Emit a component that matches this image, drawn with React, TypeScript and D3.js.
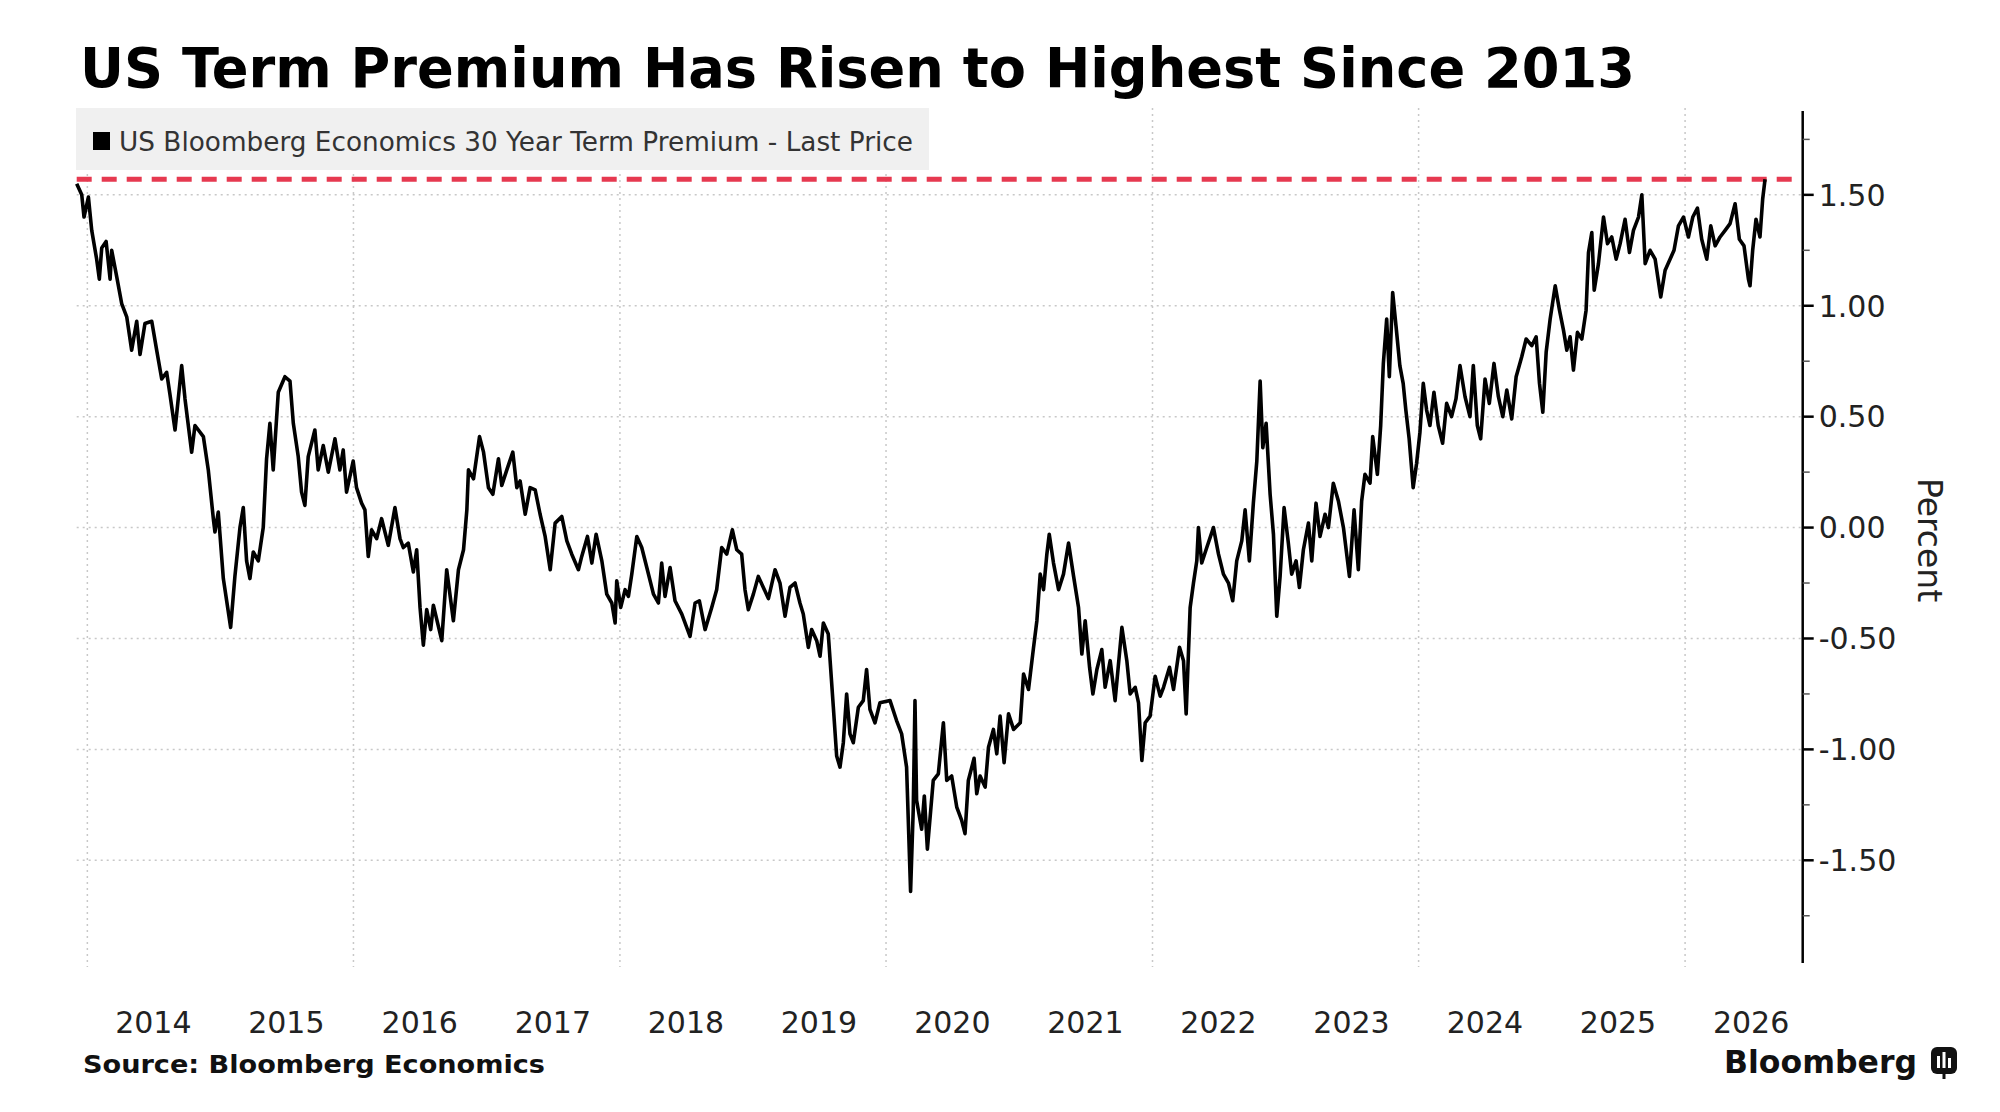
import { useMemo } from 'react';
import * as d3 from 'd3';

// US term premium (decimal year, percent)
const dates = [
    2013.92, 2013.958, 2013.975, 2014.008, 2014.033, 2014.07, 2014.09, 2014.108, 2014.141, 2014.171, 2014.183, 2014.221,
    2014.258, 2014.296, 2014.333, 2014.371, 2014.396, 2014.433, 2014.484, 2014.521, 2014.559, 2014.596, 2014.621, 2014.659,
    2014.709, 2014.734, 2014.784, 2014.809, 2014.872, 2014.909, 2014.947, 2014.959, 2014.984, 2015.022, 2015.077, 2015.109,
    2015.147, 2015.172, 2015.197, 2015.222, 2015.247, 2015.285, 2015.322, 2015.347, 2015.372, 2015.397, 2015.435, 2015.485,
    2015.523, 2015.548, 2015.585, 2015.61, 2015.635, 2015.66, 2015.71, 2015.735, 2015.773, 2015.811, 2015.861, 2015.898,
    2015.923, 2015.948, 2015.998, 2016.023, 2016.061, 2016.086, 2016.111, 2016.136, 2016.174, 2016.211, 2016.261, 2016.311,
    2016.349, 2016.374, 2016.411, 2016.449, 2016.474, 2016.499, 2016.524, 2016.549, 2016.579, 2016.599, 2016.662, 2016.699,
    2016.749, 2016.787, 2016.825, 2016.85, 2016.862, 2016.9, 2016.945, 2016.975, 2017.012, 2017.045, 2017.087, 2017.112,
    2017.15, 2017.195, 2017.225, 2017.25,
    2017.288, 2017.325, 2017.363, 2017.4, 2017.438, 2017.476, 2017.513, 2017.563, 2017.601, 2017.638, 2017.688, 2017.713,
    2017.756, 2017.789, 2017.821, 2017.864, 2017.901, 2017.939, 2017.964, 2017.976, 2018.006, 2018.039, 2018.064, 2018.089,
    2018.127, 2018.164, 2018.202, 2018.252, 2018.289, 2018.314, 2018.339, 2018.377, 2018.414, 2018.465, 2018.527, 2018.565,
    2018.597, 2018.64, 2018.69, 2018.727, 2018.765, 2018.803, 2018.845, 2018.878, 2018.915, 2018.94, 2018.965, 2019.003,
    2019.04, 2019.078, 2019.116, 2019.166, 2019.203, 2019.241, 2019.278, 2019.316, 2019.353, 2019.378, 2019.416, 2019.441,
    2019.479, 2019.504, 2019.529, 2019.566, 2019.604, 2019.629, 2019.654, 2019.679, 2019.704, 2019.729, 2019.754, 2019.792,
    2019.829, 2019.854, 2019.879, 2019.917, 2019.954,
    2020.03, 2020.079, 2020.117, 2020.154, 2020.184, 2020.204, 2020.217, 2020.229, 2020.267, 2020.287, 2020.31, 2020.354,
    2020.392, 2020.43, 2020.455, 2020.492, 2020.53, 2020.567, 2020.592, 2020.617, 2020.66, 2020.68, 2020.705, 2020.743,
    2020.768, 2020.805, 2020.83, 2020.855, 2020.885, 2020.918, 2020.956, 2021.006,
    2021.031, 2021.068, 2021.106, 2021.131, 2021.156, 2021.181, 2021.206, 2021.224, 2021.256, 2021.294, 2021.331, 2021.369,
    2021.407, 2021.444, 2021.469, 2021.494, 2021.527, 2021.552, 2021.582, 2021.619, 2021.644, 2021.682, 2021.719, 2021.77,
    2021.807, 2021.832, 2021.87, 2021.895, 2021.92, 2021.945, 2021.982, 2022.02, 2022.058, 2022.083, 2022.128, 2022.158,
    2022.203, 2022.233, 2022.253, 2022.283, 2022.308, 2022.333, 2022.345, 2022.37, 2022.408, 2022.458, 2022.496, 2022.533,
    2022.571, 2022.603, 2022.633, 2022.671, 2022.696, 2022.728, 2022.758, 2022.784, 2022.809, 2022.829, 2022.854, 2022.884,
    2022.909, 2022.934, 2022.959, 2022.989, 2023.021, 2023.046, 2023.079, 2023.104, 2023.134, 2023.172, 2023.197, 2023.229,
    2023.259, 2023.297, 2023.322, 2023.359, 2023.397, 2023.435, 2023.48, 2023.515, 2023.547, 2023.572, 2023.597, 2023.635,
    2023.655, 2023.69, 2023.715, 2023.735, 2023.76, 2023.78, 2023.805, 2023.83,
    2023.859, 2023.884, 2023.904, 2023.929, 2023.959, 2023.985, 2024.01, 2024.035, 2024.06, 2024.085, 2024.115, 2024.147,
    2024.18, 2024.21, 2024.247, 2024.28, 2024.31, 2024.348, 2024.385, 2024.41, 2024.44, 2024.465, 2024.498, 2024.53,
    2024.565, 2024.598, 2024.631, 2024.661, 2024.698, 2024.731, 2024.773, 2024.806, 2024.848, 2024.881, 2024.906, 2024.931,
    2024.956, 2024.986, 2025.024, 2025.056, 2025.086, 2025.111, 2025.136, 2025.161, 2025.191, 2025.224, 2025.256, 2025.274,
    2025.299, 2025.317, 2025.349, 2025.387, 2025.417, 2025.449, 2025.482, 2025.512, 2025.549, 2025.582, 2025.612, 2025.65,
    2025.675, 2025.7, 2025.737, 2025.775, 2025.817, 2025.85, 2025.887, 2025.917, 2025.95, 2025.988, 2026.025, 2026.058,
    2026.093, 2026.125, 2026.163, 2026.193, 2026.226, 2026.263, 2026.301, 2026.338, 2026.376, 2026.408, 2026.443, 2026.476,
    2026.488, 2026.508, 2026.533, 2026.563, 2026.583, 2026.601,
];

const termPremium = [
    1.55, 1.5, 1.4, 1.49, 1.34, 1.21, 1.12, 1.26, 1.29, 1.12, 1.25, 1.13,
    1.01, 0.95, 0.8, 0.93, 0.78, 0.92, 0.93, 0.8, 0.67, 0.7, 0.6, 0.44,
    0.73, 0.58, 0.34, 0.46, 0.41, 0.26, 0.04, -0.02, 0.07, -0.23, -0.45, -0.22,
    0.0, 0.09, -0.15, -0.23, -0.11, -0.15, 0.0, 0.31, 0.47, 0.26, 0.61, 0.68,
    0.66, 0.47, 0.32, 0.16, 0.1, 0.32, 0.44, 0.26, 0.37, 0.25, 0.4, 0.26,
    0.35, 0.16, 0.3, 0.18, 0.11, 0.08, -0.13, -0.01, -0.05, 0.04, -0.08, 0.09,
    -0.05, -0.09, -0.07, -0.2, -0.1, -0.36, -0.53, -0.37, -0.46, -0.35, -0.51, -0.19,
    -0.42, -0.19, -0.1, 0.08, 0.26, 0.22, 0.41, 0.34, 0.18, 0.15, 0.31, 0.19,
    0.26, 0.34, 0.18, 0.21,
    0.06, 0.18, 0.17, 0.06, -0.04, -0.19, 0.02, 0.05, -0.06, -0.12, -0.19, -0.13,
    -0.04, -0.16, -0.03, -0.15, -0.3, -0.34, -0.43, -0.24, -0.36, -0.28, -0.31, -0.21,
    -0.04, -0.09, -0.18, -0.3, -0.34, -0.16, -0.31, -0.18, -0.33, -0.39, -0.49, -0.34,
    -0.33, -0.46, -0.36, -0.28, -0.09, -0.12, -0.01, -0.1, -0.12, -0.28, -0.37, -0.3,
    -0.22, -0.27, -0.32, -0.19, -0.25, -0.4, -0.27, -0.25, -0.34, -0.39, -0.54, -0.46,
    -0.51, -0.58, -0.43, -0.48, -0.81, -1.03, -1.08, -0.97, -0.75, -0.93, -0.97, -0.81,
    -0.78, -0.64, -0.82, -0.88, -0.79,
    -0.78, -0.87, -0.93, -1.08, -1.64, -1.27, -0.78, -1.23, -1.36, -1.21, -1.45, -1.14,
    -1.11, -0.88, -1.14, -1.12, -1.26, -1.32, -1.38, -1.14, -1.04, -1.2, -1.12, -1.17,
    -0.99, -0.91, -1.02, -0.85, -1.06, -0.84, -0.91, -0.88,
    -0.66, -0.73, -0.54, -0.42, -0.21, -0.28, -0.12, -0.03, -0.16, -0.28, -0.21, -0.07,
    -0.22, -0.36, -0.57, -0.42, -0.63, -0.75, -0.64, -0.55, -0.72, -0.6, -0.78, -0.45,
    -0.6, -0.75, -0.72, -0.79, -1.05, -0.88, -0.85, -0.67, -0.76, -0.72, -0.63, -0.73,
    -0.54, -0.6, -0.84, -0.36, -0.25, -0.15, 0.0, -0.16, -0.09, 0.0, -0.12, -0.21,
    -0.25, -0.33, -0.15, -0.06, 0.08, -0.15, 0.11, 0.3, 0.66, 0.36, 0.47, 0.15,
    -0.03, -0.4, -0.22, 0.09, -0.07, -0.21, -0.15, -0.27, -0.1, 0.02, -0.15, 0.11,
    -0.04, 0.06, 0.0, 0.2, 0.12, 0.0, -0.22, 0.08, -0.19, 0.12, 0.24, 0.2,
    0.41, 0.24, 0.46, 0.74, 0.94, 0.68, 1.06, 0.91,
    0.73, 0.65, 0.53, 0.4, 0.18, 0.29, 0.43, 0.65, 0.53, 0.46, 0.61, 0.46,
    0.38, 0.56, 0.5, 0.58, 0.73, 0.59, 0.5, 0.73, 0.46, 0.4, 0.67, 0.56,
    0.74, 0.59, 0.5, 0.62, 0.49, 0.68, 0.77, 0.85, 0.82, 0.86, 0.65, 0.52,
    0.79, 0.94, 1.09, 0.98, 0.89, 0.8, 0.86, 0.71, 0.88, 0.85, 0.98, 1.24,
    1.33, 1.07, 1.19, 1.4, 1.28, 1.31, 1.21, 1.28, 1.39, 1.24, 1.34, 1.4,
    1.5, 1.19, 1.25, 1.21, 1.04, 1.16, 1.21, 1.25, 1.36, 1.4, 1.31, 1.4,
    1.44, 1.3, 1.21, 1.36, 1.27, 1.31, 1.34, 1.37, 1.46, 1.3, 1.27, 1.12,
    1.09, 1.25, 1.39, 1.31, 1.48, 1.57,
];

const highLevel = 1.57;
const yTicks = [-1.5, -1, -0.5, 0, 0.5, 1, 1.5];
const yMinorTicks = [-1.75, -1.25, -0.75, -0.25, 0.25, 0.75, 1.25, 1.75];
const yearLabels = [2014, 2015, 2016, 2017, 2018, 2019, 2020, 2021, 2022, 2023, 2024, 2025, 2026];
const gridYears = [2014, 2016, 2018, 2020, 2022, 2024, 2026];

const TITLE = 'US Term Premium Has Risen to Highest Since 2013';
const LEGEND = 'US Bloomberg Economics 30 Year Term Premium - Last Price';
const SOURCE = 'Source: Bloomberg Economics';

const PLOT = { left: 76.7, right: 1802.7, top: 111, bottom: 963 };
const FONT = '"DejaVu Sans", Verdana, sans-serif';

const toDate = (t: number) => {
    const y = Math.floor(t);
    const start = new Date(y, 0, 1).getTime();
    const end = new Date(y + 1, 0, 1).getTime();
    return new Date(start + (t - y) * (end - start));
};

export default function App() {
    const width = 2000;
    const height = 1112;

    const xScale = useMemo(
        () => d3.scaleTime().domain([toDate(2013.92), toDate(2026.884)]).range([PLOT.left, PLOT.right]),
        []
    );
    const yScale = useMemo(
        () => d3.scaleLinear().domain([-1.963, 1.878]).range([PLOT.bottom, PLOT.top]),
        []
    );

    const path = useMemo(() => {
        const line = d3
            .line<number>()
            .x((_, i) => xScale(toDate(dates[i])))
            .y((d) => yScale(d));
        return line(termPremium) ?? '';
    }, [xScale, yScale]);

    const fmt = d3.format('.2f');

    return (
        <svg
            width={width}
            height={height}
            style={{ position: 'absolute', left: 0, top: 0, background: '#fff' }}
            fontFamily={FONT}
        >
            <rect width={width} height={height} fill="#fff" />

            {/* title */}
            <text x={80} y={87} fontSize={55} fontWeight="bold" fill="#000" textLength={1555} lengthAdjust="spacingAndGlyphs">
                {TITLE}
            </text>

            {/* gridlines */}
            {yTicks.map((t) => (
                <line
                    key={'h' + t}
                    x1={PLOT.left}
                    x2={PLOT.right}
                    y1={yScale(t)}
                    y2={yScale(t)}
                    stroke="#c8c8c8"
                    strokeWidth={1.5}
                    strokeDasharray="2,4"
                />
            ))}
            {gridYears.map((yr) => (
                <line
                    key={'v' + yr}
                    x1={xScale(new Date(yr, 0, 1))}
                    x2={xScale(new Date(yr, 0, 1))}
                    y1={PLOT.top - 3}
                    y2={PLOT.bottom + 4}
                    stroke="#c8c8c8"
                    strokeWidth={1.5}
                    strokeDasharray="2,4"
                />
            ))}

            {/* legend */}
            <rect x={76} y={108} width={853} height={62} fill="#f0f0f0" />
            <rect x={93} y={132} width={17} height={18} fill="#000" />
            <text x={119} y={151} fontSize={26} fill="#333" textLength={794} lengthAdjust="spacingAndGlyphs">
                {LEGEND}
            </text>

            {/* highest level marker */}
            <line
                x1={PLOT.left}
                x2={PLOT.right - 6}
                y1={yScale(highLevel)}
                y2={yScale(highLevel)}
                stroke="#e63950"
                strokeWidth={5}
                strokeDasharray="15,10"
            />

            {/* series */}
            <path d={path} fill="none" stroke="#000" strokeWidth={3.6} strokeLinejoin="round" />

            {/* right axis */}
            <line x1={PLOT.right} x2={PLOT.right} y1={PLOT.top} y2={PLOT.bottom} stroke="#000" strokeWidth={2.5} />
            {yTicks.map((t) => (
                <g key={'yt' + t} transform={`translate(${PLOT.right},${yScale(t)})`}>
                    <line x1={0} x2={11} stroke="#000" strokeWidth={2.5} />
                    <text x={16} dy="0.36em" fontSize={30} fill="#222">
                        {t < 0 ? '-' + fmt(-t) : fmt(t)}
                    </text>
                </g>
            ))}
            {yMinorTicks.map((t) => (
                <line
                    key={'ym' + t}
                    x1={PLOT.right}
                    x2={PLOT.right + 7}
                    y1={yScale(t)}
                    y2={yScale(t)}
                    stroke="#555"
                    strokeWidth={1.5}
                />
            ))}
            <text
                transform={`translate(1930,540) rotate(90)`}
                textAnchor="middle"
                dy="0.35em"
                fontSize={33}
                fill="#222"
            >
                Percent
            </text>

            {/* year labels */}
            {yearLabels.map((yr) => (
                <text key={'yl' + yr} x={xScale(new Date(yr, 6, 1))} y={1033} textAnchor="middle" fontSize={30} fill="#222">
                    {yr}
                </text>
            ))}

            {/* footer */}
            <text x={83} y={1073} fontSize={24} fontWeight="bold" fill="#111" textLength={462} lengthAdjust="spacingAndGlyphs">
                {SOURCE}
            </text>
            <text x={1724} y={1073} fontSize={32} fontWeight="bold" fill="#111" textLength={193} lengthAdjust="spacingAndGlyphs">
                Bloomberg
            </text>
            <g transform="translate(1931,1047)">
                <rect width={26} height={27} rx={6} fill="#111" />
                <rect x={6} y={9} width={3} height={12} fill="#fff" />
                <rect x={11.5} y={5} width={3} height={16} fill="#fff" />
                <rect x={17} y={11} width={3} height={10} fill="#fff" />
                <rect x={11.5} y={26} width={3} height={6} fill="#111" />
            </g>
        </svg>
    );
}
